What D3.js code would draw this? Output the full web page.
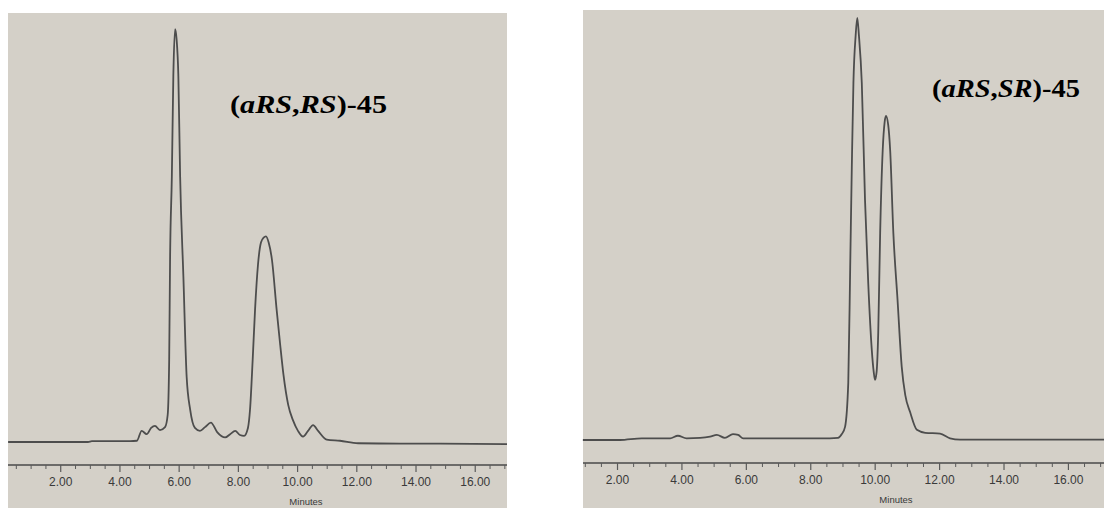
<!DOCTYPE html>
<html>
<head>
<meta charset="utf-8">
<script src="https://cdn.jsdelivr.net/npm/d3@7"></script>
<style>
  html, body { margin: 0; padding: 0; background: #ffffff; }
  svg { display: block; }
  .tick text, .axis-title { font-family: "Liberation Sans", Arial, sans-serif; }
  .compound { font-family: "Liberation Serif", "Times New Roman", serif; font-weight: bold; }
</style>
</head>
<body>
<svg id="chart" width="1104" height="508"></svg>
<script>
// Chromatogram traces: retention time (min) and detector response (relative units)
const leftTimes = [0.24, 2.00, 2.94, 3.07, 4.36, 4.59, 4.75, 4.92, 5.07, 5.20, 5.37, 5.54, 5.63, 5.68, 5.71, 5.77,
  5.82, 5.88, 5.93, 5.99, 6.05, 6.16, 6.27, 6.39, 6.55, 6.72, 6.89, 7.09, 7.30, 7.57, 7.74, 7.91, 8.07, 8.21,
  8.34, 8.41, 8.50, 8.58, 8.68, 8.78, 8.87, 8.95, 9.04, 9.15, 9.31, 9.43, 9.54, 9.70, 9.86, 10.03, 10.20,
  10.37, 10.54, 10.71, 11.00, 11.45, 12.06, 13.48, 14.83, 17.09];
const leftSignal = [0, 0, 0, 0.2, 0.2, 0.3, 2.7, 1.9, 3.4, 3.9, 2.9, 3.6, 6.6, 19.9, 44.2, 64.3,
  88.6, 100, 97.6, 88.6, 64.3, 40.0, 15.8, 7.8, 3.4, 2.7, 3.6, 4.7, 2.4, 1.1, 1.9, 2.7, 1.7, 1.5,
  3.4, 7.8, 19.9, 32.0, 43.0, 48.3, 49.5, 49.8, 48.3, 44.2, 32.0, 23.5, 16.3, 9.0, 5.3, 2.7, 1.3,
  2.7, 4.1, 2.7, 0.6, 0.3, -0.3, -0.4, -0.4, -0.5];

const rightTimes = [0.94, 2.09, 2.77, 3.65, 3.89, 4.16, 4.58, 4.89, 5.10, 5.35, 5.60, 5.76, 5.92, 7.06,
  8.61, 8.86, 8.98, 9.08, 9.18, 9.24, 9.29, 9.34, 9.41, 9.46, 9.51, 9.60, 9.70, 9.80, 9.91, 9.97, 10.01,
  10.06, 10.11, 10.17, 10.25, 10.31, 10.35, 10.42, 10.48, 10.58, 10.71, 10.84, 10.95, 11.10, 11.31, 11.57,
  12.03, 12.34, 12.65, 13.89, 17.12];
const rightSignal = [0, 0, 0.4, 0.4, 1.0, 0.4, 0.5, 0.8, 1.2, 0.5, 1.4, 1.2, 0.4, 0.4,
  0.4, 0.5, 1.4, 3.1, 13.5, 40.9, 64.5, 84.4, 95.7, 99.8, 95.7, 84.4, 56.7, 37.1, 21.3, 16.1, 14.2,
  16.1, 25.3, 48.9, 68.6, 75.2, 76.6, 74.5, 68.6, 48.9, 33.1, 17.3, 10.6, 6.6, 2.4, 1.7,
  1.5, 0.4, 0.1, 0.1, 0.1];

// Time axis: minor ticks every half minute, labelled every two minutes
const minorTicks = d3.range(0.5, 17.01, 0.5);
const majorTicks = [2, 4, 6, 8, 10, 12, 14, 16];
const tickLabels = ["2.00", "4.00", "6.00", "8.00", "10.00", "12.00", "14.00", "16.00"];
const axisTitle = "Minutes";

const svg = d3.select("#chart");

function drawPanel(opt) {
  const g = svg.append("g");

  g.append("rect")
    .attr("x", opt.left).attr("y", opt.top)
    .attr("width", opt.right - opt.left).attr("height", 508 - opt.top)
    .attr("fill", "#d4d0c8");

  const x = d3.scaleLinear().domain(opt.tRange).range([opt.left, opt.right]);
  const y = d3.scaleLinear().domain(opt.sRange).range([opt.axisY, opt.top]);

  // axis line with minor and major ticks
  const axisG = g.append("g").attr("transform", `translate(0,${opt.axisY})`);
  axisG.append("line")
    .attr("x1", opt.left).attr("x2", opt.right)
    .attr("stroke", "#4a4a4a").attr("stroke-width", 1.6);

  const minorAxis = d3.axisBottom(x)
    .tickValues(minorTicks.filter(t => t >= opt.tRange[0] && t <= opt.tRange[1] && !majorTicks.includes(t)))
    .tickSize(4).tickFormat("");
  axisG.append("g").call(minorAxis)
    .call(s => s.select(".domain").remove())
    .selectAll("line").attr("stroke", "#5a5a5a").attr("stroke-width", 1);

  const majorAxis = d3.axisBottom(x)
    .tickValues(majorTicks)
    .tickSize(7).tickPadding(5)
    .tickFormat((d, i) => tickLabels[i]);
  const maj = axisG.append("g").call(majorAxis);
  maj.select(".domain").remove();
  maj.selectAll("line").attr("stroke", "#5a5a5a").attr("stroke-width", 1.2);
  maj.selectAll("text")
    .attr("font-family", null)
    .attr("font-size", 12)
    .attr("fill", "#3a3a3a");

  g.append("text")
    .attr("class", "axis-title")
    .attr("x", opt.titleX).attr("y", opt.axisY + opt.titleDy)
    .attr("text-anchor", "middle")
    .attr("font-size", 9.5)
    .attr("fill", "#3a3a3a")
    .text(axisTitle);

  // chromatogram trace
  const line = d3.line()
    .x((d, i) => x(opt.times[i]))
    .y(d => y(d))
    .curve(d3.curveMonotoneX);
  g.append("path")
    .datum(opt.signal)
    .attr("d", line)
    .attr("fill", "none")
    .attr("stroke", "#4d4d4d")
    .attr("stroke-width", 1.8)
    .attr("stroke-linejoin", "round");

  // compound label
  const lab = g.append("text")
    .attr("class", "compound")
    .attr("x", opt.labelX).attr("y", opt.labelY)
    .attr("font-size", 25)
    .attr("fill", "#000")
    .attr("textLength", opt.labelW)
    .attr("lengthAdjust", "spacingAndGlyphs");
  opt.label.forEach(p => {
    lab.append("tspan").attr("font-style", p.italic ? "italic" : "normal").text(p.text);
  });
}

drawPanel({
  left: 8, right: 507, top: 13, axisY: 465,
  tRange: [0.236, 17.09], sRange: [-5.57, 103.9],
  times: leftTimes, signal: leftSignal,
  titleX: 306, titleDy: 40,
  labelX: 230, labelY: 113, labelW: 157,
  label: [{text: "("}, {text: "aRS", italic: true}, {text: ","}, {text: "RS", italic: true}, {text: ")-45"}]
});

drawPanel({
  left: 583, right: 1104, top: 10, axisY: 463,
  tRange: [0.944, 17.12], sRange: [-5.44, 101.65],
  times: rightTimes, signal: rightSignal,
  titleX: 896, titleDy: 40,
  labelX: 932, labelY: 97, labelW: 148,
  label: [{text: "("}, {text: "aRS", italic: true}, {text: ","}, {text: "SR", italic: true}, {text: ")-45"}]
});
</script>
</body>
</html>
